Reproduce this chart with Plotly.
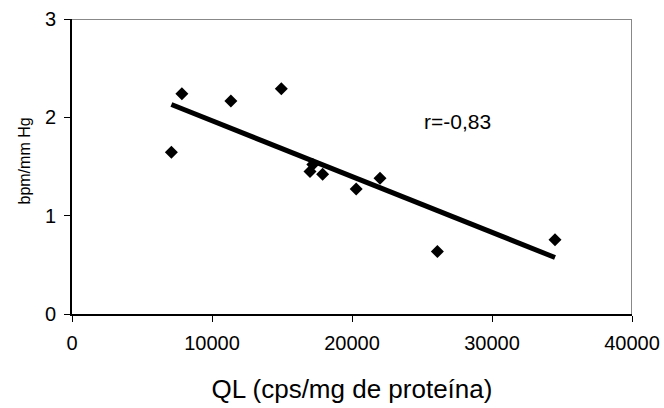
import plotly.graph_objects as go

ql = [7100, 7850, 11350, 14950, 17000, 17200, 17900, 20300, 22000, 26100, 34500]
bpm = [1.645, 2.24, 2.165, 2.29, 1.45, 1.52, 1.42, 1.27, 1.38, 0.635, 0.755]

trend_x = [7100, 34500]
trend_y = [2.13, 0.575]

x_ticks = [0, 10000, 20000, 30000, 40000]
y_ticks = [0, 1, 2, 3]

FONT = "Liberation Sans, Arial, sans-serif"

fig = go.Figure()
fig.add_trace(go.Scatter(x=trend_x, y=trend_y, mode="lines",
                         line=dict(color="black", width=5), showlegend=False))
fig.add_trace(go.Scatter(x=ql, y=bpm, mode="markers",
                         marker=dict(symbol="diamond", size=10, color="black"),
                         showlegend=False))

# gray top/right frame
fig.add_shape(type="line", xref="x", yref="y", x0=0, x1=40000, y0=3, y1=3,
              line=dict(color="#888888", width=2))
fig.add_shape(type="line", xref="x", yref="y", x0=40000, x1=40000, y0=0, y1=3,
              line=dict(color="#888888", width=2))

fig.add_annotation(x=27500, y=1.955, text="r=-0,83", showarrow=False,
                   font=dict(size=21, color="black", family=FONT))

# y-axis title placed as rotated annotation
fig.add_annotation(xref="paper", yref="paper", x=0, y=0.5, xshift=-48, yshift=5,
                   text="bpm/mm Hg", textangle=-90, showarrow=False,
                   xanchor="center", yanchor="middle",
                   font=dict(size=16, color="black", family=FONT))

fig.update_layout(
    width=664, height=408,
    margin=dict(l=72, r=32, t=19, b=94),
    paper_bgcolor="white", plot_bgcolor="white",
    font=dict(family=FONT, color="black"),
    xaxis=dict(range=[0, 40000], tickvals=x_ticks, ticktext=[str(v) for v in x_ticks],
               automargin=False,
               showgrid=False, zeroline=False, showline=True, linecolor="black", linewidth=2,
               ticks="outside", ticklen=6, tickcolor="black", tickwidth=1,
               ticklabelstandoff=4,
               tickfont=dict(size=20), title=dict(text="QL (cps/mg de proteína)",
               font=dict(size=26), standoff=27)),
    yaxis=dict(range=[0, 3], tickvals=y_ticks, ticktext=[str(v) for v in y_ticks],
               automargin=False,
               showgrid=False, zeroline=False, showline=True, linecolor="black", linewidth=2,
               ticks="outside", ticklen=6, tickcolor="black", tickwidth=1,
               ticklabelstandoff=4,
               tickfont=dict(size=20)),
)

fig.write_html("out.html", config={"displayModeBar": False},
               post_script="document.body.style.margin='0';")
